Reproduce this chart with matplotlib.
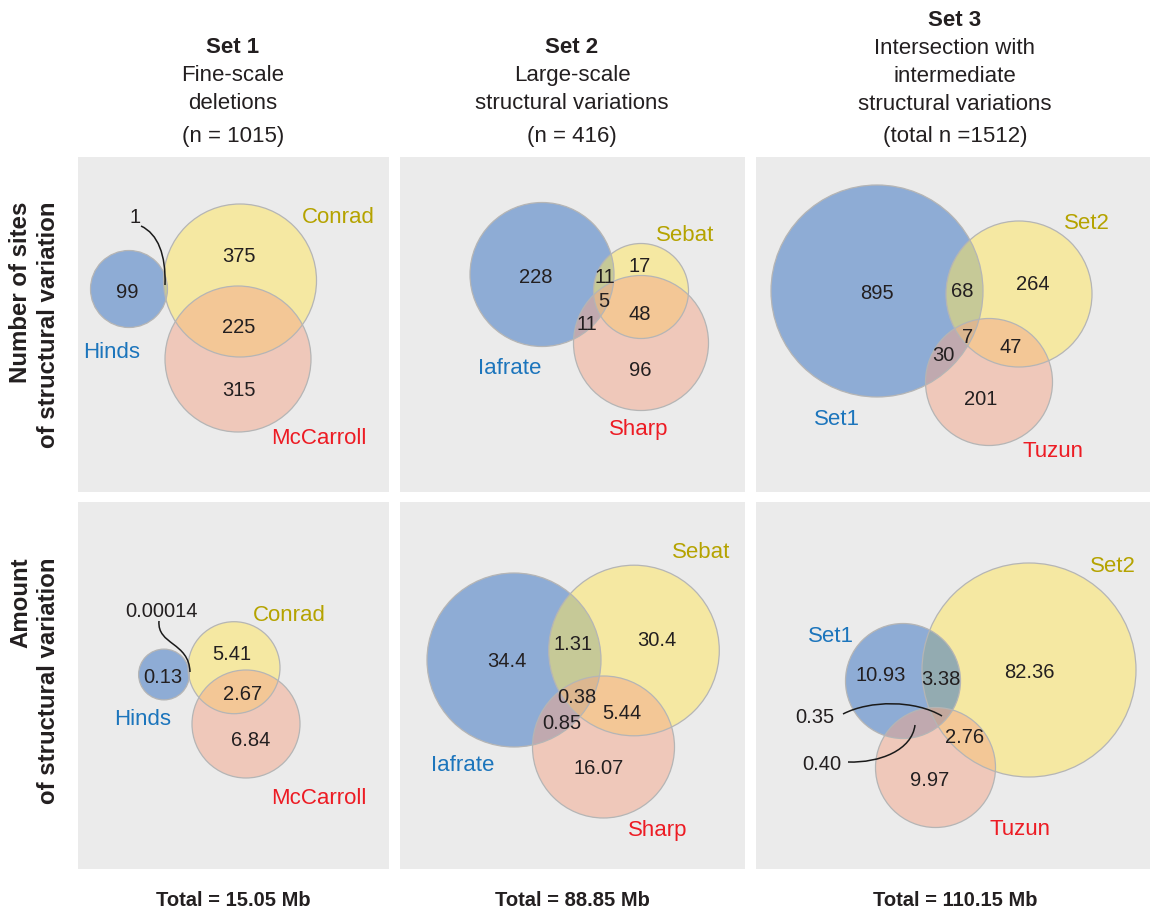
import matplotlib.pyplot as plt
from matplotlib.patches import Circle, Rectangle, PathPatch
from matplotlib.path import Path

plt.rcParams['font.family'] = ['Liberation Sans', 'DejaVu Sans']

# ---- data -------------------------------------------------------------
col_titles = ['Set 1', 'Set 2', 'Set 3']
col_subtitles = [['Fine-scale', 'deletions'],
                 ['Large-scale', 'structural variations'],
                 ['Intersection with', 'intermediate', 'structural variations']]
count_prefix = ['n = ', 'n = ', 'total n =']
row_titles = [['Number of sites', 'of structural variation'],
              ['Amount', 'of structural variation']]

set1_names = ['Hinds', 'Conrad', 'McCarroll']
set2_names = ['Iafrate', 'Sebat', 'Sharp']
set3_names = ['Set1', 'Set2', 'Tuzun']

# regions: A, B, C = the three studies, AB = A and B only, ABC = all three ...
set1_regions = ['A', 'AB', 'B', 'BC', 'C']
set23_regions = ['A', 'AB', 'B', 'ABC', 'BC', 'AC', 'C']

set1_sites = ['99', '1', '375', '225', '315']
set2_sites = ['228', '11', '17', '5', '48', '11', '96']
set3_sites = ['895', '68', '264', '7', '47', '30', '201']

set1_mb = ['0.13', '0.00014', '5.41', '2.67', '6.84']
set2_mb = ['34.4', '1.31', '30.4', '0.38', '5.44', '0.85', '16.07']
set3_mb = ['10.93', '3.38', '82.36', '0.35', '2.76', '0.40', '9.97']

# ---- layout (pixels, origin top-left) ----------------------------------
W, H = 1151, 911
col_x = [(78, 389), (400, 745), (756, 1150)]
row_y = [(157, 492), (502, 869)]
col_cx = [233, 572, 955]

BG = '#ebebeb'
FILL = ['#336fc1', '#ffe75b', '#f3a78b']   # drawn at alpha 0.5
NAME_COL = ['#1c75bc', '#b5a300', '#ed1c24']
TXT = '#231f20'

# circles (cx, cy, r) for A, B, C and drawing order
circles = {
    (0, 0): ([(129, 289, 38.5), (240, 280.5, 76.5), (238, 359, 73)], [0, 1, 2]),
    (0, 1): ([(542, 274.5, 72), (641, 291, 47.5), (641, 343, 67.5)], [0, 1, 2]),
    (0, 2): ([(877, 291, 106), (1019, 294, 73), (989, 382, 63.5)], [0, 1, 2]),
    (1, 0): ([(164, 674.5, 25.4), (234, 667.7, 46), (246, 724, 54)], [0, 1, 2]),
    (1, 1): ([(514, 660, 87), (634, 650.5, 85.3), (603.5, 747, 71)], [0, 1, 2]),
    (1, 2): ([(903, 681, 57.5), (1029, 670, 107), (935.5, 767.5, 60)], [1, 0, 2]),
}

region_pos = {
    (0, 0): {'A': (127, 291), 'AB': (135, 216), 'B': (239, 255),
             'BC': (239, 326), 'C': (239, 389)},
    (0, 1): {'A': (536, 276), 'AB': (605, 276), 'B': (640, 265), 'ABC': (604, 300),
             'BC': (640, 313), 'AC': (587, 323), 'C': (640, 369)},
    (0, 2): {'A': (877, 292), 'AB': (962, 290), 'B': (1033, 283), 'ABC': (968, 336),
             'BC': (1011, 346), 'AC': (943, 354), 'C': (981, 398)},
    (1, 0): {'A': (163, 676), 'AB': (162, 610), 'B': (232, 653),
             'BC': (243, 693), 'C': (251, 739)},
    (1, 1): {'A': (507, 660), 'AB': (573, 643), 'B': (657, 639), 'ABC': (577, 696),
             'BC': (622, 712), 'AC': (562, 722), 'C': (599, 767)},
    (1, 2): {'A': (881, 674), 'AB': (941, 678), 'B': (1029, 671), 'ABC': (815, 716),
             'BC': (965, 736), 'AC': (822, 763), 'C': (930, 779)},
}

name_pos = {
    (0, 0): [(112, 350), (338, 215), (319, 436)],
    (0, 1): [(510, 366), (685, 233), (639, 427)],
    (0, 2): [(837, 417), (1087, 221), (1053, 449)],
    (1, 0): [(143, 717), (289, 613), (319, 796)],
    (1, 1): [(463, 763), (701, 550), (658, 828)],
    (1, 2): [(831, 634), (1113, 564), (1020, 827)],
}

# curved leader lines for the tiny regions (cubic bezier control points)
leaders = [
    [(141, 226), (158, 234), (166, 255), (165, 285)],
    [(159, 621), (157, 645), (189, 642), (190, 672)],
    [(843, 714), (870, 700), (915, 700), (942, 716)],
    [(848, 762), (880, 763), (912, 750), (915, 725)],
]

panels = {
    (0, 0): (set1_names, set1_regions, set1_sites),
    (0, 1): (set2_names, set23_regions, set2_sites),
    (0, 2): (set3_names, set23_regions, set3_sites),
    (1, 0): (set1_names, set1_regions, set1_mb),
    (1, 1): (set2_names, set23_regions, set2_mb),
    (1, 2): (set3_names, set23_regions, set3_mb),
}


def put(ax, x, y, s, size, color=TXT, weight='normal', **kw):
    # y is the middle of the capital letters; shift to the baseline
    ax.text(x, y + 0.36 * size * 100 / 72, s, fontsize=size, color=color,
            fontweight=weight, ha='center', va='baseline', **kw)


fig = plt.figure(figsize=(W / 100, H / 100), dpi=100)
ax = fig.add_axes([0, 0, 1, 1])
ax.set_xlim(0, W)
ax.set_ylim(H, 0)
ax.axis('off')

for (r, c), (names, regions, values) in panels.items():
    x0, x1 = col_x[c]
    y0, y1 = row_y[r]
    ax.add_patch(Rectangle((x0, y0), x1 - x0, y1 - y0, facecolor=BG,
                           edgecolor='none', zorder=0))
    geo, order = circles[(r, c)]
    for i in order:
        cx, cy, rad = geo[i]
        ax.add_patch(Circle((cx, cy), rad, facecolor=FILL[i], alpha=0.5,
                            edgecolor='none', zorder=1))
    for cx, cy, rad in geo:
        ax.add_patch(Circle((cx, cy), rad, facecolor='none',
                            edgecolor='#b5b5b5', lw=0.9, zorder=2))
    for reg, val in zip(regions, values):
        x, y = region_pos[(r, c)][reg]
        put(ax, x, y, val, 14.5, zorder=4)
    for name, (x, y), col in zip(names, name_pos[(r, c)], NAME_COL):
        put(ax, x, y, name, 16, color=col, zorder=4)

for pts in leaders:
    path = Path(pts, [Path.MOVETO, Path.CURVE4, Path.CURVE4, Path.CURVE4])
    ax.add_patch(PathPatch(path, facecolor='none', edgecolor='#1a1a1a',
                           lw=1.1, zorder=3))

# column headers
site_counts = [sum(int(v) for v in vals)
               for vals in (set1_sites, set2_sites, set3_sites)]
for c in range(3):
    lines = col_subtitles[c]
    top = 45 if len(lines) == 2 else 18
    put(ax, col_cx[c], top, col_titles[c], 16, weight='bold')
    for k, line in enumerate(lines):
        put(ax, col_cx[c], top + 28 * (k + 1), line, 16)
    put(ax, col_cx[c], 134, f'({count_prefix[c]}{site_counts[c]})', 16)

# row titles, rotated, ends aligned at the top
for r, top in zip(range(2), [202, 557]):
    for k, line in enumerate(row_titles[r]):
        ax.text(21 + 28 * k, top, line, rotation=90, fontsize=17.3,
                fontweight='bold', color=TXT, ha='center', va='top')

# totals in Mb
mb_totals = [sum(float(v) for v in vals) for vals in (set1_mb, set2_mb, set3_mb)]
for c, tot in enumerate(mb_totals):
    put(ax, col_cx[c], 899, f'Total = {tot:.2f} Mb', 14.5, weight='bold')

fig.savefig('out.png', dpi=100, facecolor='white')
